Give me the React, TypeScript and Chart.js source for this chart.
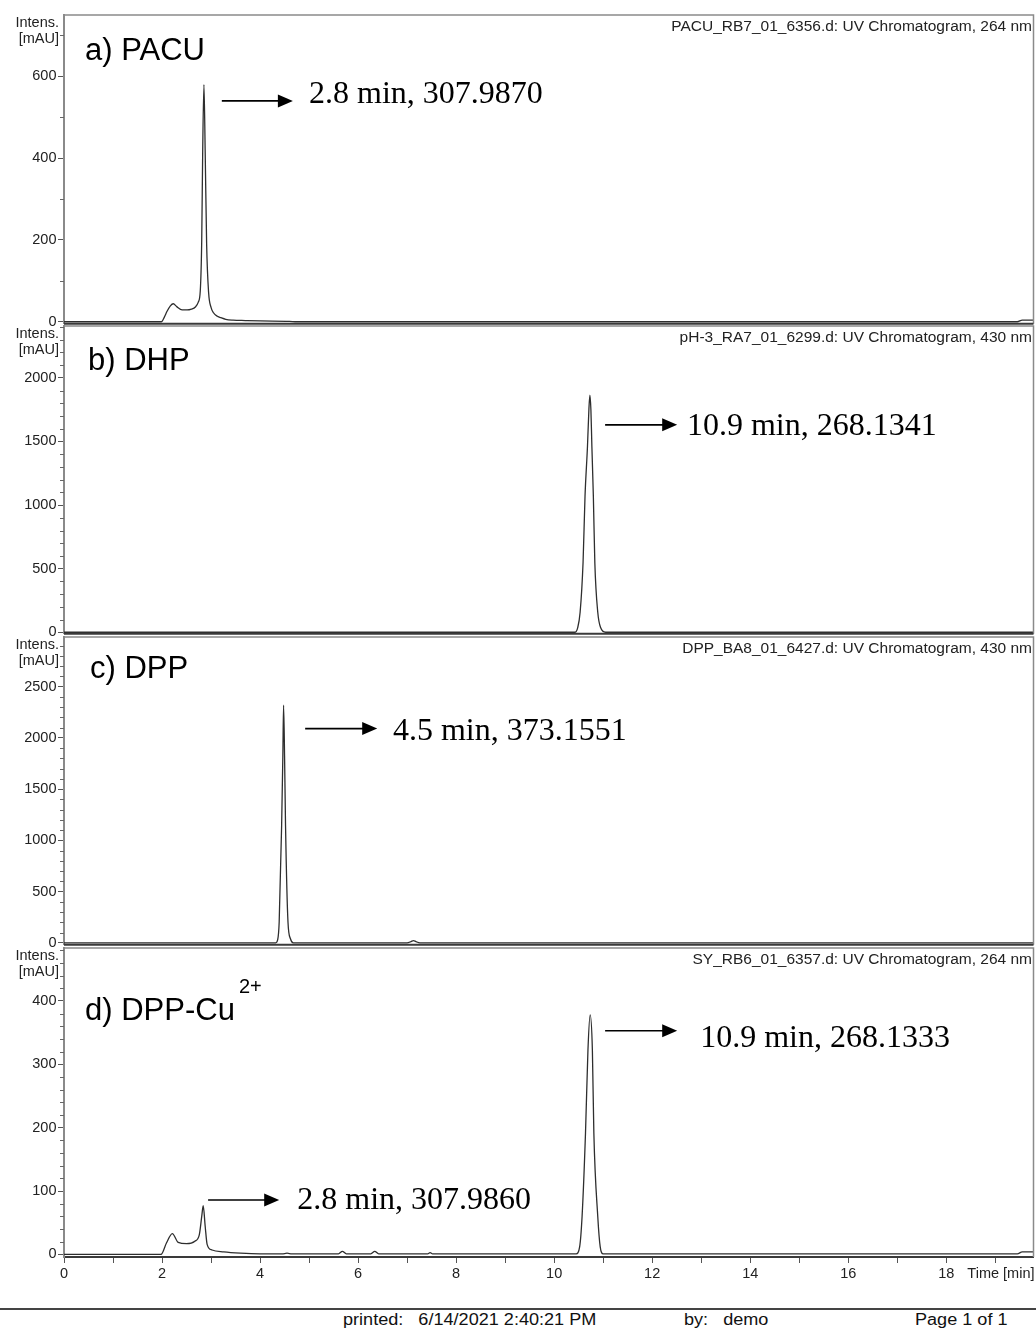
import React, { useEffect, useRef } from "react";
import { Chart, registerables } from "chart.js";

Chart.register(...registerables);

// ---------------- data ----------------
const timeA = [0, 1.99, 2.05, 2.1, 2.17, 2.23, 2.3, 2.41, 2.51, 2.6, 2.68, 2.74, 2.78, 2.81, 2.83, 2.855, 2.88, 2.91, 2.95, 3.0, 3.05, 3.12, 3.2, 3.3, 3.45, 3.7, 4.0, 4.6, 4.75, 19.45, 19.55, 19.79];
const intensA = [0, 0, 12, 25, 39, 44, 37, 29, 29, 31, 36, 48, 75, 200, 420, 580, 420, 190, 72, 35, 22, 14, 10, 6, 4, 3, 2, 1, 0, 0, 4, 4];

const timeB = [0, 10.42, 10.48, 10.53, 10.59, 10.63, 10.68, 10.71, 10.73, 10.75, 10.77, 10.8, 10.83, 10.89, 10.95, 11.05, 19.79];
const intensB = [0, 0, 35, 157, 549, 1069, 1461, 1760, 1865, 1750, 1461, 1069, 549, 157, 35, 0, 0];

const timeC = [0, 4.32, 4.36, 4.39, 4.44, 4.465, 4.48, 4.5, 4.52, 4.57, 4.62, 4.68, 7.0, 7.08, 7.13, 7.18, 7.26, 19.79];
const intensC = [0, 0, 30, 200, 1140, 1824, 2319, 1824, 1140, 200, 40, 0, 0, 12, 22, 12, 0, 0];

const timeD = [0, 1.98, 2.09, 2.21, 2.33, 2.5, 2.67, 2.76, 2.81, 2.84, 2.88, 2.92, 3.02, 3.26, 3.6, 4.0, 4.45, 4.55, 4.65, 5.6, 5.68, 5.76, 6.26, 6.34, 6.42, 7.42, 7.47, 7.52, 10.45, 10.52, 10.57, 10.64, 10.69, 10.735, 10.78, 10.81, 10.89, 10.94, 11.0, 19.45, 19.55, 19.79];
const intensD = [0, 0, 18, 33, 19, 17, 21, 31, 60, 77, 45, 16, 7, 4, 2, 1, 1, 2, 1, 1, 5, 1, 1, 5, 1, 1, 3, 1, 1, 12, 60, 192, 323, 378, 323, 192, 60, 12, 1, 1, 4, 4];

// x axis (Time [min])
const timeTicks = [0, 1, 2, 3, 4, 5, 6, 7, 8, 9, 10, 11, 12, 13, 14, 15, 16, 17, 18, 19];
const TIME_MIN = 0;
const TIME_MAX = 19.78;

// y axis ticks per panel
const yMajorA = [0, 200, 400, 600];
const yMajorB = [0, 500, 1000, 1500, 2000];
const yMajorC = [0, 500, 1000, 1500, 2000, 2500];
const yMajorD = [0, 100, 200, 300, 400];

// headers / labels
const headerA = "PACU_RB7_01_6356.d: UV Chromatogram, 264 nm";
const headerB = "pH-3_RA7_01_6299.d: UV Chromatogram, 430 nm";
const headerC = "DPP_BA8_01_6427.d: UV Chromatogram, 430 nm";
const headerD = "SY_RB6_01_6357.d: UV Chromatogram, 264 nm";

// annotations (arrow from/to in min, at intensity; text anchor in min / intensity)
const arrowsA = [{ from: 3.22, to: 4.67, at: 540 }];
const notesA = [{ t: 5.0, v: 536, text: "2.8 min, 307.9870" }];
const arrowsB = [{ from: 11.04, to: 12.51, at: 1631 }];
const notesB = [{ t: 12.71, v: 1553, text: "10.9 min, 268.1341" }];
const arrowsC = [{ from: 4.92, to: 6.39, at: 2091 }];
const notesC = [{ t: 6.71, v: 1983, text: "4.5 min, 373.1551" }];
const arrowsD = [
  { from: 11.04, to: 12.51, at: 353 },
  { from: 2.94, to: 4.39, at: 86 },
];
const notesD = [
  { t: 12.98, v: 328, text: "10.9 min, 268.1333" },
  { t: 4.76, v: 71, text: "2.8 min, 307.9860" },
];

// ---------------- styling ----------------
const SANS = '"Liberation Sans", Arial, Helvetica, sans-serif';
const SERIF = '"Liberation Serif", "Times New Roman", Times, serif';

type Arrow = { from: number; to: number; at: number };
type Note = { t: number; v: number; text: string };
type PanelSpec = {
  id: string;
  times: number[];
  values: number[];
  yMin: number;
  yMax: number;
  majors: number[];
  minor: number;
  header: string;
  label: string;
  sup?: string;
  labelDx: number;
  labelDy: number;
  supDx?: number;
  supDy?: number;
  arrows: Arrow[];
  notes: Note[];
  chartTop: number;
  chartBottom: number;
  showX: boolean;
};

const PAD_TOP = 12;
const PAD_BOTTOM = 10;
const X_AXIS_H = 32;
const Y_AXIS_W = 64;
const PAD_RIGHT = 2.5;

const panels: PanelSpec[] = [
  {
    id: "a", times: timeA, values: intensA, yMin: -5, yMax: 750, majors: yMajorA, minor: 100,
    header: headerA, label: "a) PACU", labelDx: 21, labelDy: 45,
    arrows: arrowsA, notes: notesA, chartTop: 15, chartBottom: 324, showX: false,
  },
  {
    id: "b", times: timeB, values: intensB, yMin: -12, yMax: 2408, majors: yMajorB, minor: 100,
    header: headerB, label: "b) DHP", labelDx: 24, labelDy: 44,
    arrows: arrowsB, notes: notesB, chartTop: 326, chartBottom: 634, showX: false,
  },
  {
    id: "c", times: timeC, values: intensC, yMin: -19.5, yMax: 2985, majors: yMajorC, minor: 100,
    header: headerC, label: "c) DPP", labelDx: 26, labelDy: 41,
    arrows: arrowsC, notes: notesC, chartTop: 637, chartBottom: 945, showX: false,
  },
  {
    id: "d", times: timeD, values: intensD, yMin: -4, yMax: 483.5, majors: yMajorD, minor: 20,
    header: headerD, label: "d) DPP-Cu", sup: "2+", labelDx: 21, labelDy: 72, supDx: 175, supDy: 45,
    arrows: arrowsD, notes: notesD, chartTop: 948, chartBottom: 1257, showX: true,
  },
];

function makeDecor(spec: PanelSpec) {
  return {
    id: "decor_" + spec.id,
    afterDraw(chart: any) {
      const { ctx, chartArea: ca, scales } = chart;
      const xs = scales.x;
      const ys = scales.y;
      ctx.save();

      // frame: top + right in gray
      ctx.strokeStyle = "#8a8a8a";
      ctx.lineWidth = 1.5;
      ctx.beginPath();
      ctx.moveTo(ca.left, ca.top);
      ctx.lineTo(ca.right, ca.top);
      ctx.lineTo(ca.right, ca.bottom);
      ctx.stroke();
      if (!spec.showX) {
        ctx.strokeStyle = "#3a3a3a";
        ctx.lineWidth = 2;
        ctx.beginPath();
        ctx.moveTo(ca.left, ca.bottom);
        ctx.lineTo(ca.right, ca.bottom);
        ctx.stroke();
      }

      // minor y ticks
      ctx.strokeStyle = "#666";
      ctx.lineWidth = 1;
      for (let i = 1; i * spec.minor <= spec.yMax; i++) {
        const v = i * spec.minor;
        if (spec.majors.includes(v)) continue;
        const py = Math.round(ys.getPixelForValue(v)) + 0.5;
        ctx.beginPath();
        ctx.moveTo(ca.left - 4, py);
        ctx.lineTo(ca.left, py);
        ctx.stroke();
      }

      // Intens. / [mAU]
      ctx.fillStyle = "#222";
      ctx.font = `14.5px ${SANS}`;
      ctx.textAlign = "right";
      ctx.textBaseline = "middle";
      ctx.fillText("Intens.", ca.left - 5, ca.top + 8);
      ctx.fillText("[mAU]", ca.left - 5, ca.top + 24);

      // header
      ctx.font = `15.5px ${SANS}`;
      ctx.textAlign = "right";
      ctx.textBaseline = "alphabetic";
      ctx.fillText(spec.header, ca.right - 1.5, ca.top + 16);

      // panel label
      ctx.fillStyle = "#000";
      ctx.textAlign = "left";
      ctx.font = `31px ${SANS}`;
      ctx.fillText(spec.label, ca.left + spec.labelDx, ca.top + spec.labelDy);
      if (spec.sup) {
        ctx.font = `20px ${SANS}`;
        ctx.fillText(spec.sup, ca.left + (spec.supDx || 0), ca.top + (spec.supDy || 0));
      }

      // arrows
      ctx.strokeStyle = "#000";
      ctx.fillStyle = "#000";
      ctx.lineWidth = 1.6;
      for (const a of spec.arrows) {
        const x1 = xs.getPixelForValue(a.from);
        const x2 = xs.getPixelForValue(a.to);
        const y = ys.getPixelForValue(a.at);
        ctx.beginPath();
        ctx.moveTo(x1, y);
        ctx.lineTo(x2 - 12, y);
        ctx.stroke();
        ctx.beginPath();
        ctx.moveTo(x2, y);
        ctx.lineTo(x2 - 15, y - 6.5);
        ctx.lineTo(x2 - 15, y + 6.5);
        ctx.closePath();
        ctx.fill();
      }

      // annotation texts
      ctx.font = `32px ${SERIF}`;
      ctx.textAlign = "left";
      ctx.textBaseline = "alphabetic";
      for (const n of spec.notes) {
        ctx.fillText(n.text, xs.getPixelForValue(n.t), ys.getPixelForValue(n.v));
      }

      // axis title for time
      if (spec.showX) {
        ctx.fillStyle = "#222";
        ctx.font = `14.5px ${SANS}`;
        ctx.textAlign = "right";
        ctx.textBaseline = "middle";
        ctx.fillText("Time [min]", ca.right + 1, ca.bottom + 16.5);
      }
      ctx.restore();
    },
  };
}

function Panel({ spec }: { spec: PanelSpec }) {
  const ref = useRef<HTMLCanvasElement | null>(null);
  const canvasTop = spec.chartTop - PAD_TOP;
  const canvasHeight =
    PAD_TOP + (spec.chartBottom - spec.chartTop) + (spec.showX ? X_AXIS_H : PAD_BOTTOM);

  useEffect(() => {
    const canvas = ref.current;
    if (!canvas) return;
    const points = spec.times.map((t, i) => ({ x: t, y: spec.values[i] }));
    const chart = new Chart(canvas, {
      type: "line",
      data: {
        datasets: [
          {
            data: points,
            borderColor: "#2e2e2e",
            borderWidth: 1.3,
            pointRadius: 0,
            fill: false,
            cubicInterpolationMode: "monotone",
          },
        ],
      },
      options: {
        animation: false,
        responsive: false,
        devicePixelRatio: 1,
        events: [],
        layout: {
          padding: {
            top: PAD_TOP,
            bottom: spec.showX ? 0 : PAD_BOTTOM,
            left: 0,
            right: PAD_RIGHT,
          },
        },
        plugins: {
          legend: { display: false },
          tooltip: { enabled: false },
          title: { display: false },
        },
        scales: {
          x: {
            type: "linear",
            display: spec.showX,
            min: TIME_MIN,
            max: TIME_MAX,
            afterBuildTicks: (scale: any) => {
              scale.ticks = timeTicks.map((v) => ({ value: v }));
            },
            afterFit: (scale: any) => {
              scale.height = spec.showX ? X_AXIS_H : 0;
            },
            border: { display: true, color: "#3a3a3a", width: 2 },
            grid: {
              drawOnChartArea: false,
              drawTicks: true,
              tickLength: 6,
              color: "#555",
            },
            ticks: {
              autoSkip: false,
              maxRotation: 0,
              padding: 2,
              color: "#222",
              font: { family: SANS, size: 14.5 },
              callback: (value: any) => (Number(value) % 2 === 0 ? String(value) : ""),
            },
          },
          y: {
            type: "linear",
            min: spec.yMin,
            max: spec.yMax,
            afterBuildTicks: (scale: any) => {
              scale.ticks = spec.majors.map((v) => ({ value: v }));
            },
            afterFit: (scale: any) => {
              scale.width = Y_AXIS_W;
            },
            border: { display: true, color: "#8a8a8a", width: 2 },
            grid: {
              drawOnChartArea: false,
              drawTicks: true,
              tickLength: 6,
              color: "#555",
            },
            ticks: {
              padding: 1.5,
              color: "#222",
              font: { family: SANS, size: 14.5 },
              callback: (value: any) => String(value),
            },
          },
        },
      } as any,
      plugins: [makeDecor(spec)],
    } as any);
    return () => chart.destroy();
  }, [spec]);

  return (
    <canvas
      ref={ref}
      width={1036}
      height={canvasHeight}
      style={{
        position: "absolute",
        left: 0,
        top: canvasTop,
        width: 1036,
        height: canvasHeight,
        display: "block",
      }}
    />
  );
}

const footerStyle: React.CSSProperties = {
  position: "absolute",
  top: 1310,
  fontFamily: SANS,
  fontSize: 16,
  lineHeight: "20px",
  color: "#111",
  whiteSpace: "pre",
  transform: "scaleX(1.13)",
  transformOrigin: "left center",
};

export default function App() {
  return (
    <div
      style={{
        position: "absolute",
        left: 0,
        top: 0,
        width: 1036,
        height: 1329,
        background: "#fff",
        overflow: "hidden",
      }}
    >
      {panels.map((p) => (
        <Panel key={p.id} spec={p} />
      ))}
      <div
        style={{
          position: "absolute",
          left: 0,
          top: 1308,
          width: 1036,
          height: 2,
          background: "#444",
        }}
      />
      <div style={{ ...footerStyle, left: 343 }}>{"printed:   6/14/2021 2:40:21 PM"}</div>
      <div style={{ ...footerStyle, left: 684 }}>{"by:   demo"}</div>
      <div style={{ ...footerStyle, left: 915 }}>{"Page 1 of 1"}</div>
    </div>
  );
}
